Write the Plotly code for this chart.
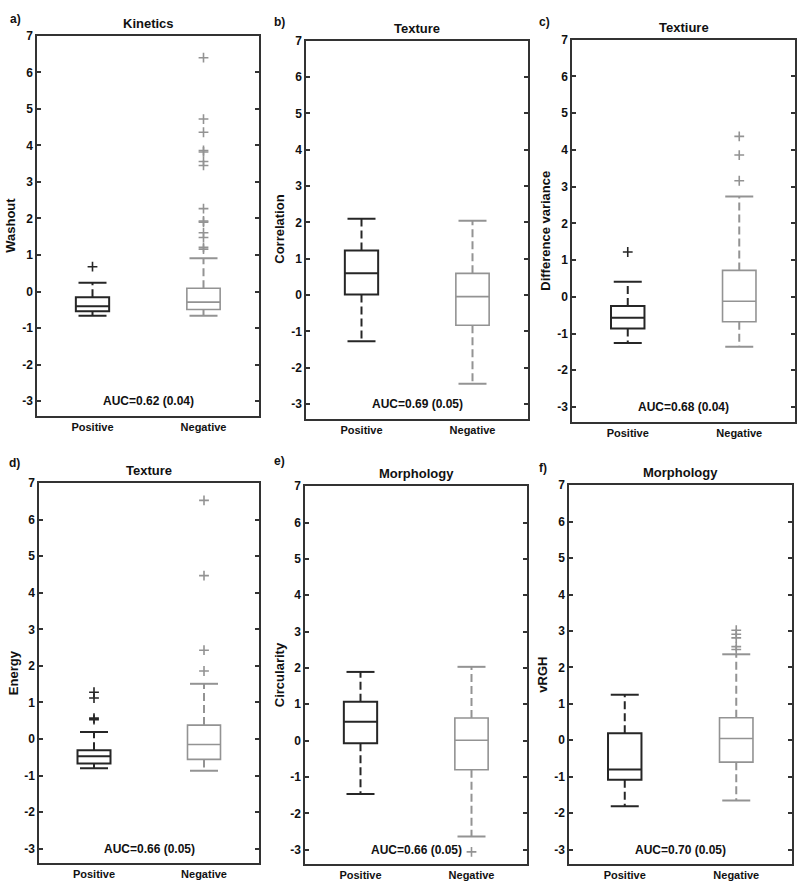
import plotly.graph_objects as go

# ---------------- data ----------------
groups = ["Positive", "Negative"]
group_pos = [1, 2]
panel_letters = ["a)", "b)", "c)", "d)", "e)", "f)"]
panel_titles = ["Kinetics", "Texture", "Textiure", "Texture", "Morphology", "Morphology"]
y_labels = ["Washout", "Correlation", "Difference variance", "Energy", "Circularity", "vRGH"]
auc_labels = ["AUC=0.62 (0.04)", "AUC=0.69 (0.05)", "AUC=0.68 (0.04)",
              "AUC=0.66 (0.05)", "AUC=0.66 (0.05)", "AUC=0.70 (0.05)"]
y_ticks = [-3, -2, -1, 0, 1, 2, 3, 4, 5, 6, 7]
y_tick_labels = ["-3", "-2", "-1", "0", "1", "2", "3", "4", "5", "6", "7"]

# per panel: [Positive, Negative]
lower_whisker = [[-0.66, -0.66], [-1.27, -2.44], [-1.26, -1.36],
                 [-0.80, -0.87], [-1.47, -2.64], [-1.81, -1.65]]
q1 = [[-0.54, -0.49], [0.02, -0.83], [-0.86, -0.68],
      [-0.67, -0.56], [-0.07, -0.80], [-1.08, -0.60]]
median = [[-0.40, -0.29], [0.60, -0.04], [-0.57, -0.12],
          [-0.47, -0.15], [0.52, 0.01], [-0.80, 0.05]]
q3 = [[-0.16, 0.09], [1.23, 0.60], [-0.25, 0.72],
      [-0.31, 0.38], [1.07, 0.62], [0.19, 0.62]]
upper_whisker = [[0.24, 0.91], [2.10, 2.05], [0.41, 2.73],
                 [0.19, 1.51], [1.89, 2.03], [1.25, 2.36]]
outliers = [
    [[0.68], [6.40, 4.72, 4.36, 3.86, 3.82, 3.56, 3.45, 2.27, 1.93, 1.90, 1.61, 1.48, 1.21, 1.16]],
    [[], []],
    [[1.22], [4.37, 3.86, 3.16]],
    [[1.28, 1.12, 0.57, 0.53], [6.53, 4.47, 2.43, 1.86]],
    [[], [-3.06]],
    [[], [3.02, 2.91, 2.81, 2.57, 2.49]],
]

# ---------------- style / layout ----------------
W, H = 800, 887
group_colors = ["#262626", "#939393"]
box_lw = [2.0, 1.6]
frame_color = "#333333"
FONT = "Arial, Liberation Sans, sans-serif"

# panel frames in pixels: (x0, x1, ytop, ybottom)
frames = [(37, 259, 29, 412), (306, 528, 34, 415), (572, 795, 33, 418),
          (39, 259, 480, 863), (305, 527, 483, 864), (569, 792, 482, 864)]
letter_pos = [(15, 12), (279, 15), (544, 15), (14, 460), (279, 458), (543, 465)]

fig = go.Figure()
annotations = []
layout_axes = {}

for p in range(6):
    xs = "" if p == 0 else str(p + 1)
    xref, yref = "x" + xs, "y" + xs
    x0, x1, yt, yb = frames[p]
    layout_axes["xaxis" + xs] = dict(
        domain=[x0 / W, x1 / W], anchor=yref, range=[0.5, 2.5],
        tickvals=group_pos, ticktext=groups, ticks="", showgrid=False, zeroline=False,
        showline=True, linecolor=frame_color, linewidth=1.5, mirror=True,
        tickfont=dict(family=FONT, size=11, color="#111", weight="bold"),
    )
    layout_axes["yaxis" + xs] = dict(
        domain=[1 - yb / H, 1 - yt / H], anchor=xref, range=[-3.4, 7],
        tickvals=y_ticks, ticktext=y_tick_labels,
        ticks="inside", ticklen=4, tickwidth=1.5, tickcolor=frame_color,
        showgrid=False, zeroline=False,
        showline=True, linecolor=frame_color, linewidth=1.5, mirror="ticks",
        tickfont=dict(family=FONT, size=12, color="#111", weight="bold"),
    )
    for g in range(2):
        col = group_colors[g]
        xg = group_pos[g]
        # dashed whiskers
        fig.add_trace(go.Scatter(
            x=[xg, xg], y=[q3[p][g], upper_whisker[p][g]], mode="lines",
            line=dict(color=col, width=2, dash="8px,4px"), xaxis=xref, yaxis=yref,
            showlegend=False, hoverinfo="skip"))
        fig.add_trace(go.Scatter(
            x=[xg, xg], y=[q1[p][g], lower_whisker[p][g]], mode="lines",
            line=dict(color=col, width=2, dash="8px,4px"), xaxis=xref, yaxis=yref,
            showlegend=False, hoverinfo="skip"))
        # whisker caps
        fig.add_trace(go.Scatter(
            x=[xg, xg], y=[lower_whisker[p][g], upper_whisker[p][g]], mode="markers",
            marker=dict(symbol="line-ew", size=20, line=dict(color=col, width=2)),
            xaxis=xref, yaxis=yref, showlegend=False, hoverinfo="skip"))
        # box
        fig.add_trace(go.Box(
            x=[xg], q1=[q1[p][g]], median=[median[p][g]], q3=[q3[p][g]],
            lowerfence=[q1[p][g]], upperfence=[q3[p][g]], width=0.3, whiskerwidth=0,
            line=dict(color=col, width=box_lw[g]), fillcolor="rgba(255,255,255,0)",
            boxpoints=False, xaxis=xref, yaxis=yref, showlegend=False, hoverinfo="skip"))
        # outliers
        if outliers[p][g]:
            fig.add_trace(go.Scatter(
                x=[xg] * len(outliers[p][g]), y=outliers[p][g], mode="markers",
                marker=dict(symbol="cross-thin", size=7, line=dict(color=col, width=1.6)),
                xaxis=xref, yaxis=yref, showlegend=False, hoverinfo="skip"))
    # AUC text
    annotations.append(dict(x=1.5, y=-3.0, xref=xref, yref=yref, text=auc_labels[p],
                            showarrow=False, xanchor="center", yanchor="middle",
                            font=dict(family=FONT, size=12, color="#111", weight="bold")))
    # title
    annotations.append(dict(x=(x0 + x1) / 2 / W, y=1 - yt / H, xref="paper", yref="paper",
                            text=panel_titles[p], showarrow=False, xanchor="center",
                            yanchor="bottom", yshift=3,
                            font=dict(family=FONT, size=13, color="#111", weight="bold")))
    # y label
    annotations.append(dict(x=x0 / W, y=1 - (yt + yb) / 2 / H, xref="paper", yref="paper",
                            text=y_labels[p], showarrow=False, textangle=-90, xshift=-26,
                            xanchor="center", yanchor="middle",
                            font=dict(family=FONT, size=13, color="#111", weight="bold")))
    # panel letter
    lx, ly = letter_pos[p]
    annotations.append(dict(x=lx / W, y=1 - ly / H, xref="paper", yref="paper",
                            text=panel_letters[p], showarrow=False,
                            xanchor="center", yanchor="middle",
                            font=dict(family=FONT, size=12, color="#111", weight="bold")))

fig.update_layout(
    width=W, height=H, margin=dict(l=0, r=0, t=0, b=0),
    paper_bgcolor="white", plot_bgcolor="white",
    annotations=annotations, **layout_axes,
)

fig.write_html("out.html", config={"displayModeBar": False},
               post_script="document.body.style.margin='0px';")
